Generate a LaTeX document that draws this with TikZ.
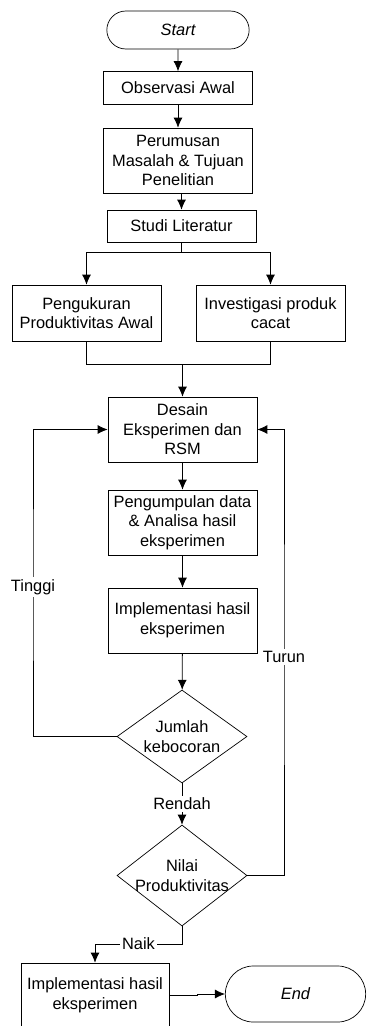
\documentclass[tikz,border=0pt]{standalone}
\usepackage{fontspec}
\setmainfont{Liberation Sans}
\usetikzlibrary{arrows.meta, shapes.geometric, shapes.misc, positioning}
\newcommand{\flowFont}{\fontsize{16.4}{19.5}\selectfont}
\tikzset{
    procBox/.style={rectangle, draw, line width=0.7pt, fill=white, align=center, font=\flowFont, minimum width=149pt, inner sep=1pt},
    termNode/.style={rounded rectangle, draw, line width=0.7pt, fill=white, font=\flowFont\itshape, minimum width=149pt, minimum height=38pt},
    decNode/.style={diamond, draw, line width=0.7pt, fill=white, inner sep=0pt, minimum width=130pt},
    decText/.style={font=\flowFont, align=center},
    flowEdge/.style={-{Latex[length=10pt, width=9pt]}, line width=0.8pt},
    flowLine/.style={line width=0.8pt},
    edgeLabel/.style={fill=white, font=\flowFont, inner sep=2pt},
}
\newcommand{\flowLink}[2]{
    \draw[flowEdge] (#1) -- (#2);
}
\begin{document}
\begin{tikzpicture}[x=1pt, y=-1pt]
        \useasboundingbox (0, 0) rectangle (370, 1026);

        \node[termNode] (start) at (178, 30) {Start};
        \node[procBox, minimum height=33pt] (obs) at (178, 88) {Observasi Awal};
        \node[procBox, minimum height=65pt] (rumus) at (178, 160.5) {Perumusan\\Masalah \& Tujuan\\Penelitian};
        \node[procBox, minimum height=32pt] (studi) at (181.5, 226) {Studi Literatur};
        \node[procBox, minimum height=56pt] (ukur) at (86.5, 313) {Pengukuran\\Produktivitas Awal};
        \node[procBox, minimum height=56pt] (invest) at (270.5, 313) {Investigasi produk\\cacat};
        \node[procBox, minimum height=65pt] (desain) at (182.5, 429.5) {Desain\\Eksperimen dan\\RSM};
        \node[procBox, minimum height=65pt] (kumpul) at (182.5, 522.5) {Pengumpulan data\\\& Analisa hasil\\eksperimen};
        \node[procBox, minimum height=65pt] (impl) at (182.5, 620.5) {Implementasi hasil\\eksperimen};
        \node[decNode, minimum height=93pt, label={[decText, name=jumlahText]center:Jumlah\\kebocoran}] (jumlah) at (182, 736.5) {};
        \node[decNode, minimum height=101pt, label={[decText, name=nilaiText]center:Nilai\\Produktivitas}] (nilai) at (182, 875.5) {};
        \node[procBox, minimum width=148pt, minimum height=64pt] (impl2) at (95, 995) {Implementasi hasil\\eksperimen};
        \node[termNode, minimum width=147pt, minimum height=56pt] (end) at (295.5, 994) {End};

        \flowLink{start}{obs}
        \flowLink{obs}{rumus}
        \draw[flowEdge] (rumus.south -| studi.north) -- (studi.north);

        % cabang ke dua proses
        \coordinate (split) at (181.5, 252);
        \draw[flowLine] (studi.south) -- (split);
        \draw[flowEdge] (split) -| (ukur.north);
        \draw[flowEdge] (split) -| (invest.north);
        \coordinate (merge) at (182.5, 364);
        \draw[flowLine] (ukur.south) |- (merge);
        \draw[flowLine] (invest.south) |- (merge);
        \flowLink{merge}{desain}

        \flowLink{desain}{kumpul}
        \flowLink{kumpul}{impl}
        \flowLink{impl}{jumlah}

        % umpan balik
        \coordinate (loopL) at (33, 587);
        \draw[flowEdge] (jumlah.west) -| (loopL) |- (desain.west);
        \node[edgeLabel] (tinggi) at (loopL) {Tinggi};
        \coordinate (loopR) at (284, 657);
        \draw[flowEdge] (nilai.east) -| (loopR) |- (desain.east);
        \node[edgeLabel] (turun) at (loopR) {Turun};

        \draw[flowEdge] (jumlah.south) -- node[edgeLabel] (rendah) {Rendah} (nilai.north);
        \coordinate (naikPt) at (138.5, 944);
        \draw[flowEdge] (nilai.south) |- (naikPt) -| (impl2.north);
        \node[edgeLabel] (naik) at (naikPt) {Naik};
        \draw[flowEdge] (impl2.east) -- ++(28, 0) |- (end.west);

    \end{tikzpicture}
\end{document}
